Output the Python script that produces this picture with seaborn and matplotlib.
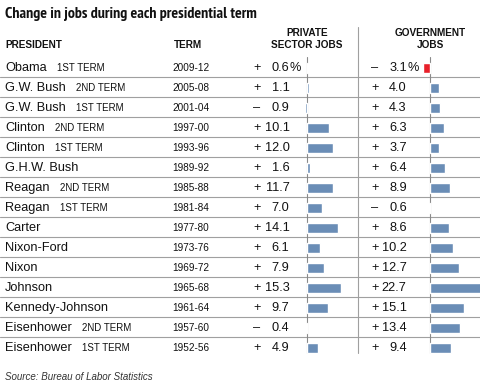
import matplotlib
matplotlib.use("Agg")
import matplotlib.pyplot as plt
from matplotlib import font_manager
import numpy as np
import pandas as pd
import seaborn as sns

presidents = ["Obama", "G.W. Bush", "G.W. Bush", "Clinton", "Clinton", "G.H.W. Bush",
              "Reagan", "Reagan", "Carter", "Nixon-Ford", "Nixon", "Johnson",
              "Kennedy-Johnson", "Eisenhower", "Eisenhower"]
term_notes = ["1ST TERM", "2ND TERM", "1ST TERM", "2ND TERM", "1ST TERM", "",
              "2ND TERM", "1ST TERM", "", "", "", "", "", "2ND TERM", "1ST TERM"]
years = ["2009-12", "2005-08", "2001-04", "1997-00", "1993-96", "1989-92", "1985-88",
         "1981-84", "1977-80", "1973-76", "1969-72", "1965-68", "1961-64", "1957-60", "1952-56"]
private_jobs = [0.6, 1.1, -0.9, 10.1, 12.0, 1.6, 11.7, 7.0, 14.1, 6.1, 7.9, 15.3, 9.7, -0.4, 4.9]
government_jobs = [-3.1, 4.0, 4.3, 6.3, 3.7, 6.4, 8.9, -0.6, 8.6, 10.2, 12.7, 22.7, 15.1, 13.4, 9.4]

title = "Change in jobs during each presidential term"
source = "Source: Bureau of Labor Statistics"

BLUE = "#6a8db6"
RED = "#e8202a"
LINE = "#a0a0a0"

sns.set_theme(style="white")
available = {f.name for f in font_manager.fontManager.ttflist}
base = "Liberation Sans" if "Liberation Sans" in available else "DejaVu Sans"
narrow = base
for cand in ["Franklin Gothic", "Libre Franklin Condensed", "PT Sans Narrow", "Archivo Narrow",
             "Roboto Condensed", "Arimo"]:
    if cand in available:
        narrow = cand
        break
plt.rcParams["font.family"] = [base, "DejaVu Sans"]

W, H = 480, 387
fig = plt.figure(figsize=(W / 100, H / 100), dpi=100)
ax = fig.add_axes([0, 0, 1, 1])
ax.set_xlim(0, W)
ax.set_ylim(H, 0)
ax.set_axis_off()

n = len(presidents)
ROW_H = 20
TOP = 56.7
centers = [TOP + ROW_H / 2 + ROW_H * i for i in range(n)]

# grid lines
for i in range(n - 1):
    y = TOP + ROW_H * (i + 1)
    ax.plot([0, W], [y, y], color=LINE, lw=0.8, zorder=1)
ax.plot([357.5, 357.5], [27, 353], color=LINE, lw=0.8, zorder=1)
ax.plot([306.7, 306.7], [57, 353], color="#8a8a8a", lw=0.8, zorder=1)
ax.plot([430.3, 430.3], [57, 353], color="#8a8a8a", lw=0.8, zorder=1)

fig.canvas.draw()
renderer = fig.canvas.get_renderer()

# title fitted to the reference width
tt = ax.text(5, 18, title, fontsize=10.5, fontweight="bold", family=[narrow, "DejaVu Sans"],
             va="baseline", ha="left", color="#111111")
w0 = tt.get_window_extent(renderer=renderer).width
tt.set_fontsize(10.5 * 254 / w0)

hdr = dict(fontsize=7.2, fontweight="bold", color="#111111", va="baseline")
ax.text(5, 47.5, "PRESIDENT", ha="left", **hdr)
ax.text(188, 47.5, "TERM", ha="center", **hdr)
ax.text(307, 35.5, "PRIVATE", ha="center", **hdr)
ax.text(307, 47.5, "SECTOR JOBS", ha="center", **hdr)
ax.text(430, 35.5, "GOVERNMENT", ha="center", **hdr)
ax.text(430, 47.5, "JOBS", ha="center", **hdr)

for i in range(n):
    yb = centers[i] + 4
    t = ax.text(5, yb, presidents[i], fontsize=9.2, va="baseline", ha="left", color="#111111")
    if term_notes[i]:
        ext = t.get_window_extent(renderer=renderer)
        ax.text(ext.x1 + 10, yb, term_notes[i], fontsize=7, va="baseline", ha="left",
                color="#111111")
    ax.text(172, yb, years[i], fontsize=7.2, va="baseline", ha="left", color="#111111")
    for vals, sx, nx in ((private_jobs, 257, 289.5), (government_jobs, 375, 406.7)):
        v = vals[i]
        ax.text(sx, yb, "+" if v >= 0 else "\u2013", fontsize=9.2, va="baseline",
                ha="center", color="#111111")
        ax.text(nx, yb, f"{abs(v):.1f}", fontsize=9.2, va="baseline", ha="right",
                color="#111111")
        if i == 0:
            ax.text(nx + 0.3, yb, "%", fontsize=9.2, va="baseline", ha="left",
                    color="#111111")

ax.text(5, 377, source, fontsize=7.0, style="italic", va="center", ha="left", color="#333333")

# bar axes
S = 2.23  # px per percentage point
rows = [str(i) for i in range(n)]
df = pd.DataFrame({"row": rows, "private": private_jobs, "government": government_jobs})
shift = 0.075


def bar_axes(x0, x1, zero, col, colors):
    a = fig.add_axes([x0 / W, 1 - (TOP + ROW_H * n) / H, (x1 - x0) / W, ROW_H * n / H])
    a.patch.set_alpha(0)
    sns.barplot(data=df, x=col, y="row", hue="row", palette=colors, orient="h",
                width=0.5, saturation=1, legend=False, ax=a, order=rows, hue_order=rows)
    a.set_xlim((x0 - zero) / S, (x1 - zero) / S)
    a.set_ylim(n - 0.5 - shift, -0.5 - shift)
    a.set_axis_off()
    return a


pal_p = {r: BLUE for r in rows}
pal_g = {r: (RED if i == 0 else BLUE) for i, r in enumerate(rows)}
bar_axes(290, 357, 306.7, "private", pal_p)
bar_axes(358, 480, 430.3, "government", pal_g)

fig.savefig("out.png", dpi=100)
